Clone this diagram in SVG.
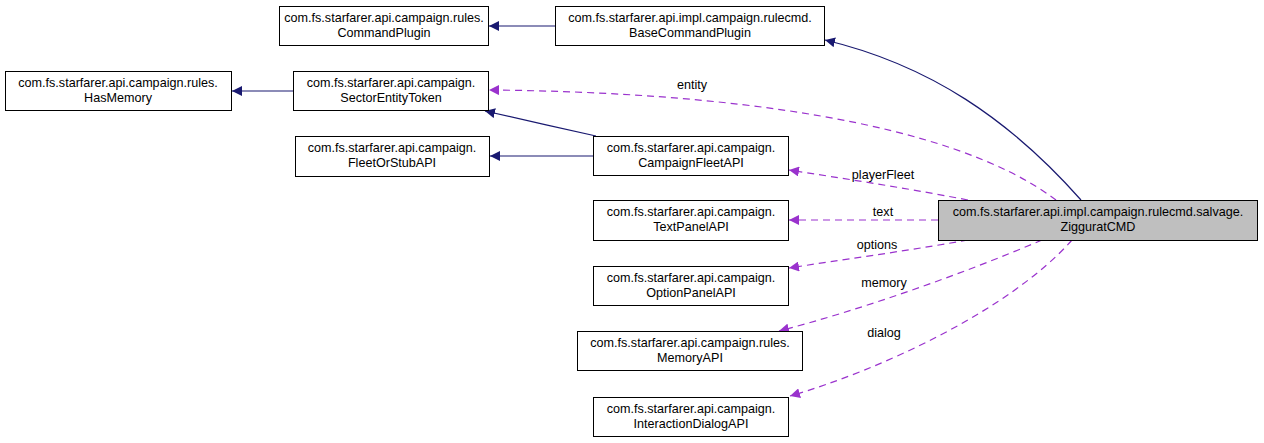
<svg xmlns="http://www.w3.org/2000/svg" width="1264" height="443" viewBox="0 0 1264 443">
<defs>
<marker id="ab" viewBox="0 0 10 10" refX="10" refY="5" markerWidth="10" markerHeight="10" markerUnits="userSpaceOnUse" orient="auto"><path d="M0,0 L10,5 L0,10 z" fill="#191970"/></marker>
<marker id="ap" viewBox="0 0 10 10" refX="10" refY="5" markerWidth="10" markerHeight="10" markerUnits="userSpaceOnUse" orient="auto"><path d="M0,0 L10,5 L0,10 z" fill="#9a32cd"/></marker>
</defs>
<style>
.n rect{fill:#fff;stroke:#000;stroke-width:1}
.n.g rect{fill:#bfbfbf}
text{font-family:"Liberation Sans",Arial,sans-serif;font-size:12.6px;fill:#000;text-anchor:middle}
.b{fill:none;stroke:#191970;stroke-width:1.2;marker-end:url(#ab)}
.p{fill:none;stroke:#9a32cd;stroke-width:1.2;stroke-dasharray:7,5;marker-end:url(#ap)}
</style>
<rect width="1264" height="443" fill="#fff"/>
<g id="edges">
<path class="b" d="M555,26 L489,26"/>
<path class="b" d="M293,91 L232,91"/>
<path class="b" d="M593,156 L490,156"/>
<path class="b" d="M596,136 C560,128 520,119 485,111"/>
<path class="b" d="M1081,200 C1010,120 930,65 825,40"/>
<path class="p" d="M1056,200 C950,120 720,92 489,90"/>
<text x="692" y="89">entity</text>
<path class="p" d="M968,200 C900,187 840,178 789,170"/>
<text x="883" y="179">playerFleet</text>
<path class="p" d="M938,220 L789,220"/>
<text x="883" y="216">text</text>
<path class="p" d="M968,240 C900,252 840,260 789,268"/>
<text x="877" y="249">options</text>
<path class="p" d="M1042,240 C960,275 860,310 779,331"/>
<text x="884" y="287">memory</text>
<path class="p" d="M1072,240 C1010,310 880,370 790,396"/>
<text x="884" y="337">dialog</text>
</g>
<g id="n_commandplugin" class="n"><rect x="279.5" y="6.5" width="209" height="39"/><text x="384" y="22">com.fs.starfarer.api.campaign.rules.</text><text x="384" y="37">CommandPlugin</text></g>
<g id="n_basecommandplugin" class="n"><rect x="555.5" y="6.5" width="269" height="39"/><text x="690" y="22">com.fs.starfarer.api.impl.campaign.rulecmd.</text><text x="690" y="37">BaseCommandPlugin</text></g>
<g id="n_hasmemory" class="n"><rect x="5.5" y="71.5" width="226" height="39"/><text x="118" y="87">com.fs.starfarer.api.campaign.rules.</text><text x="118" y="102">HasMemory</text></g>
<g id="n_sectorentitytoken" class="n"><rect x="293.5" y="71.5" width="195" height="39"/><text x="391" y="87">com.fs.starfarer.api.campaign.</text><text x="391" y="102">SectorEntityToken</text></g>
<g id="n_fleetorstubapi" class="n"><rect x="295.5" y="136.5" width="194" height="40"/><text x="392" y="152">com.fs.starfarer.api.campaign.</text><text x="392" y="167">FleetOrStubAPI</text></g>
<g id="n_campaignfleetapi" class="n"><rect x="593.5" y="136.5" width="195" height="39"/><text x="691" y="152">com.fs.starfarer.api.campaign.</text><text x="691" y="167">CampaignFleetAPI</text></g>
<g id="n_zigguratcmd" class="n g"><rect x="938.5" y="200.5" width="319" height="40"/><text x="1098" y="216">com.fs.starfarer.api.impl.campaign.rulecmd.salvage.</text><text x="1098" y="231">ZigguratCMD</text></g>
<g id="n_textpanelapi" class="n"><rect x="593.5" y="200.5" width="195" height="40"/><text x="691" y="216">com.fs.starfarer.api.campaign.</text><text x="691" y="231">TextPanelAPI</text></g>
<g id="n_optionpanelapi" class="n"><rect x="593.5" y="266.5" width="195" height="39"/><text x="691" y="282">com.fs.starfarer.api.campaign.</text><text x="691" y="297">OptionPanelAPI</text></g>
<g id="n_memoryapi" class="n"><rect x="577.5" y="331.5" width="225" height="39"/><text x="690" y="347">com.fs.starfarer.api.campaign.rules.</text><text x="690" y="362">MemoryAPI</text></g>
<g id="n_interactiondialogapi" class="n"><rect x="593.5" y="397.5" width="195" height="39"/><text x="691" y="413">com.fs.starfarer.api.campaign.</text><text x="691" y="428">InteractionDialogAPI</text></g>
</svg>
